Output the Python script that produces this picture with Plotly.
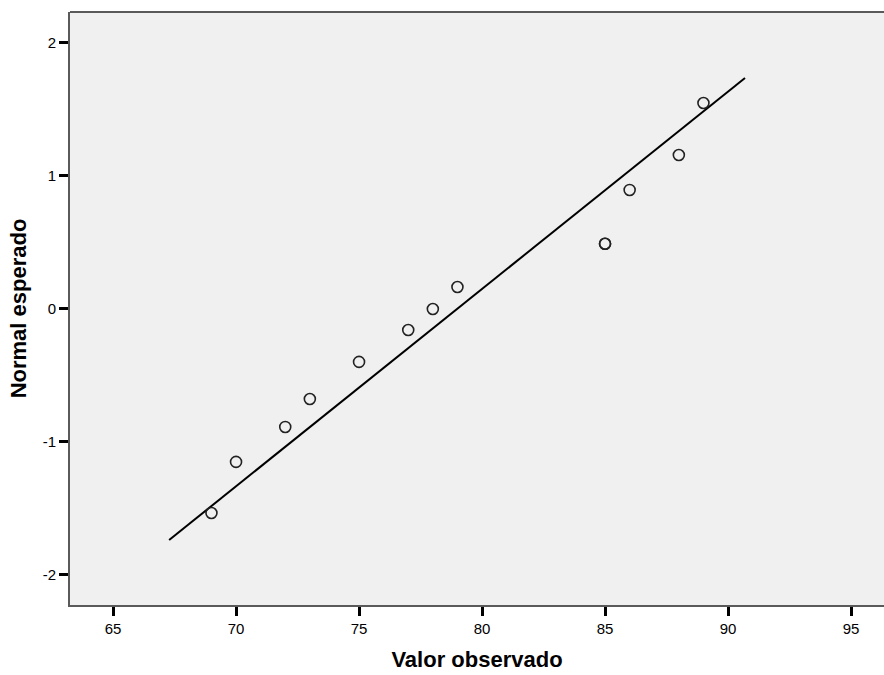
import plotly.graph_objects as go

# Observed values and their expected normal scores
observed = [69, 70, 72, 73, 75, 77, 78, 79, 85, 85, 86, 88, 89]
expected = [-1.534, -1.15, -0.887, -0.677, -0.398, -0.158, 0.0, 0.165, 0.49, 0.49, 0.895, 1.158, 1.549]

# Reference normal line endpoints
line_x = [67.28, 90.69]
line_y = [-1.737, 1.737]

x_ticks = [65, 70, 75, 80, 85, 90, 95]
y_ticks = [-2, -1, 0, 1, 2]
y_tick_labels = ["-2", "-1", "0", "1", "2"]

fig = go.Figure()

fig.add_trace(go.Scatter(
    x=line_x, y=line_y, mode="lines",
    line=dict(color="black", width=2),
    hoverinfo="skip", showlegend=False,
))

fig.add_trace(go.Scatter(
    x=observed, y=expected, mode="markers",
    marker=dict(symbol="circle-open", size=11, color="#222222",
                line=dict(width=1.6, color="#222222")),
    showlegend=False,
))

axis_font = dict(family="Liberation Sans, Arial, sans-serif", size=15, color="black")
title_font = dict(family="Liberation Sans, Arial, sans-serif", size=22, color="black")

fig.update_layout(
    width=884, height=675,
    margin=dict(l=70, r=0, t=12, b=70),
    paper_bgcolor="white",
    plot_bgcolor="#f0f0f0",
    xaxis=dict(
        range=[63.25, 96.34], tickvals=x_ticks,
        ticks="outside", ticklen=9, tickwidth=2.5, tickcolor="black",
        showline=True, linecolor="#5a5a5a", linewidth=2,
        showgrid=False, zeroline=False,
        tickfont=axis_font,
        title=dict(text="<b>Valor observado</b>", font=title_font, standoff=16),
    ),
    yaxis=dict(
        range=[-2.226, 2.233], tickvals=y_ticks, ticktext=y_tick_labels,
        ticks="outside", ticklen=9, tickwidth=2.5, tickcolor="black",
        showline=True, linecolor="#5a5a5a", linewidth=2,
        showgrid=False, zeroline=False,
        tickfont=axis_font,
        title=dict(text="<b>Normal esperado</b>", font=title_font, standoff=10),
    ),
    shapes=[dict(
        type="line", xref="paper", yref="paper",
        x0=0, x1=1, y0=1, y1=1,
        line=dict(color="#5a5a5a", width=2),
    )],
)

fig.write_html("out.html")
